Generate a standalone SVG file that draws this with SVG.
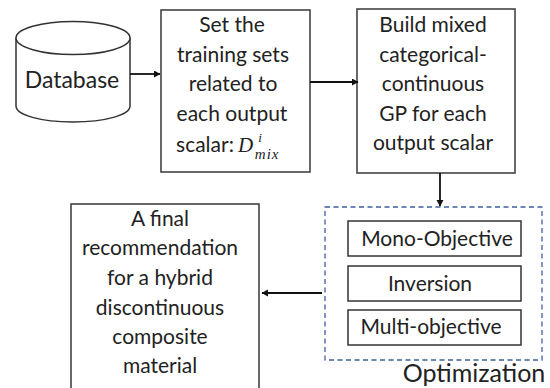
<svg xmlns="http://www.w3.org/2000/svg" width="550" height="388" viewBox="0 0 550 388">
<style>
text{font-family:"Lato","Open Sans","Liberation Sans",sans-serif;font-size:21px;fill:#222;text-anchor:middle}
text.m{font-family:"Liberation Serif","DejaVu Serif",serif;font-style:italic;text-anchor:start}
.b{fill:#fff;stroke:#444;stroke-width:1.6}
.i{fill:#fff;stroke:#333;stroke-width:1.5}
.c{fill:none;stroke:#111;stroke-width:1.8}
</style>
<defs><marker id="a" markerUnits="userSpaceOnUse" markerWidth="8" markerHeight="8" refX="6" refY="3.5" orient="auto"><path d="M0 0L6.500 3.500L0 7z" fill="#111"/></marker></defs>
<rect width="550" height="388" fill="#fff"/>
<g id="database">
<path class="i" d="M16 38V106C16 115 41 122 73 122S130 115 130 106V38"/>
<ellipse class="i" cx="73" cy="38" rx="57" ry="16.500"/>
<text x="72" y="88" style="font-size:23px">Database</text>
</g>
<g id="training-sets">
<rect class="b" x="161" y="10" width="149" height="162"/>
<text x="232" y="32">Set the</text>
<text x="233" y="62">training sets</text>
<text x="233" y="91">related to</text>
<text x="232" y="121">each output</text>
<text x="205" y="152">scalar:</text>
<text class="m" x="238" y="152">D<tspan dx="5" dy="-10" style="font-size:13px">i</tspan><tspan dx="-7" dy="17" style="font-size:15px;letter-spacing:1px">mix</tspan></text>
</g>
<g id="build-gp">
<rect class="b" x="357" y="9" width="158" height="164"/>
<text x="433" y="32">Build mixed</text>
<text x="433" y="62">categorical-</text>
<text x="433" y="91">continuous</text>
<text x="433" y="121">GP for each</text>
<text x="433" y="150">output scalar</text>
</g>
<g id="recommendation">
<rect class="b" x="71" y="204" width="188" height="190"/>
<text x="160" y="226">A final</text>
<text x="160" y="255">recommendation</text>
<text x="160" y="285">for a hybrid</text>
<text x="160" y="315">discontinuous</text>
<text x="160" y="344">composite</text>
<text x="160" y="373">material</text>
</g>
<g id="optimization">
<rect x="325" y="207" width="217" height="153" fill="#fff" stroke="#3f5f9f" stroke-width="1.300" stroke-dasharray="5 3.500"/>
<rect class="i" x="348" y="221" width="173" height="35"/>
<text x="437" y="246">Mono-Objective</text>
<rect class="i" x="348" y="266" width="173" height="35"/>
<text x="430" y="291">Inversion</text>
<rect class="i" x="348" y="310" width="173" height="35"/>
<text x="431" y="334">Multi-objective</text>
<text x="474" y="382" style="font-size:25px">Optimization</text>
</g>
<g id="connectors">
<path class="c" marker-end="url(#a)" d="M130 74H160"/>
<path class="c" marker-end="url(#a)" d="M310 82H358"/>
<path class="c" marker-end="url(#a)" d="M440 173V206"/>
<path class="c" marker-end="url(#a)" d="M322 293H262"/>
</g>
</svg>
